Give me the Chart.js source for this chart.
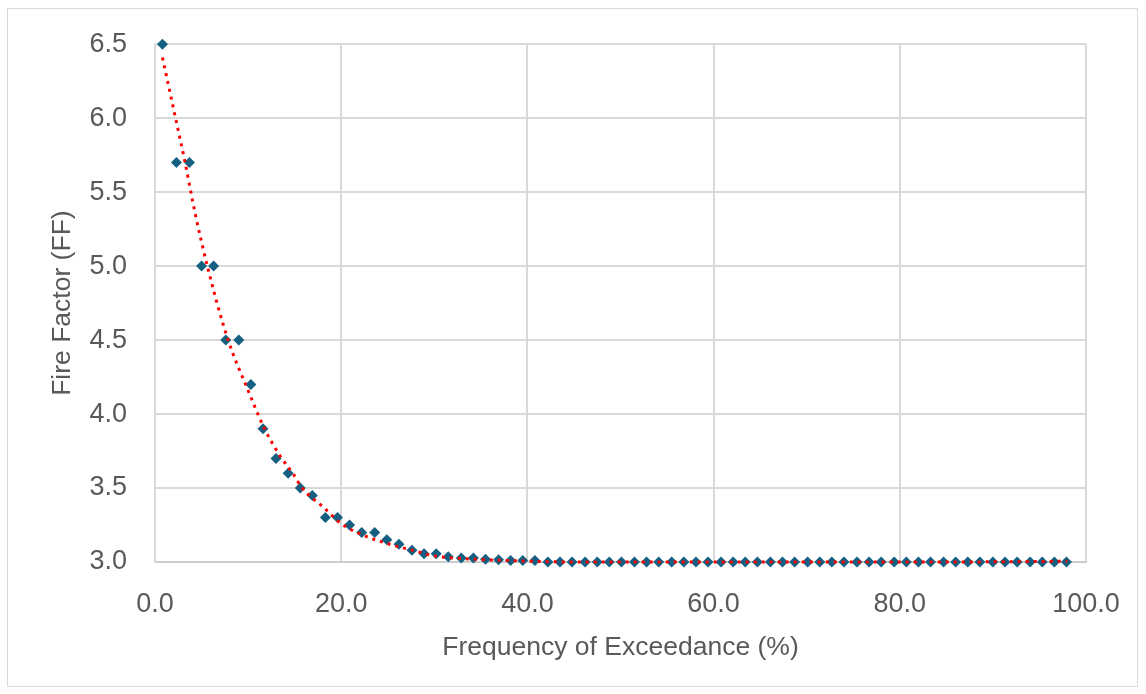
<!DOCTYPE html>
<html>
<head>
<meta charset="utf-8">
<script src="https://cdn.jsdelivr.net/npm/chart.js@4"></script>
<style>
  html, body { margin: 0; padding: 0; background: #fff; }
  .wrap { position: relative; width: 1146px; height: 694px; }
  .frame { position: absolute; left: 7px; top: 8px; width: 1131px; height: 679px;
           border: 1px solid #d9d9d9; box-sizing: border-box; pointer-events: none; }
</style>
</head>
<body>
<div class="wrap">
  <canvas id="ffChart"></canvas>
  <div class="frame"></div>
</div>
<script>
// frequency of exceedance (%) for each observation
const exceedance = [
  0.8, 2.3, 3.7, 5.0, 6.3, 7.6, 9.0, 10.3, 11.6, 13.0,
  14.3, 15.6, 16.9, 18.3, 19.6, 20.9, 22.2, 23.6, 24.9, 26.2,
  27.6, 28.9, 30.2, 31.5, 32.9, 34.2, 35.5, 36.9, 38.2, 39.5,
  40.8, 42.2, 43.5, 44.8, 46.2, 47.5, 48.8, 50.1, 51.5, 52.8,
  54.1, 55.5, 56.8, 58.1, 59.4, 60.8, 62.1, 63.4, 64.7, 66.1,
  67.4, 68.7, 70.1, 71.4, 72.7, 74.0, 75.4, 76.7, 78.0, 79.4,
  80.7, 82.0, 83.3, 84.7, 86.0, 87.3, 88.6, 90.0, 91.3, 92.6,
  94.0, 95.3, 96.6, 97.9
];

// fire factor of each observation
const fireFactor = [
  6.5, 5.7, 5.7, 5.0, 5.0, 4.5, 4.5, 4.2, 3.9, 3.7,
  3.6, 3.5, 3.45, 3.3, 3.3, 3.25, 3.2, 3.2, 3.15, 3.12,
  3.08, 3.055, 3.055, 3.035, 3.027, 3.027, 3.018, 3.016, 3.01, 3.01,
  3.01, 3.0, 3.0, 3.0, 3.0, 3.0, 3.0, 3.0, 3.0, 3.0,
  3.0, 3.0, 3.0, 3.0, 3.0, 3.0, 3.0, 3.0, 3.0, 3.0,
  3.0, 3.0, 3.0, 3.0, 3.0, 3.0, 3.0, 3.0, 3.0, 3.0,
  3.0, 3.0, 3.0, 3.0, 3.0, 3.0, 3.0, 3.0, 3.0, 3.0,
  3.0, 3.0, 3.0, 3.0
];

// fitted trend curve
const trendX = [0.8, 2.0, 3.2, 4.3, 5.7, 7.8, 10.0, 11.7, 13.4, 14.9, 15.8, 18.1, 20.0, 22.4, 25.2, 27.6, 30.1, 34.0, 39.4, 45.0, 55.0, 70.0, 85.0, 98.0];
const trendY = [6.41, 6.06, 5.71, 5.36, 4.98, 4.51, 4.16, 3.91, 3.72, 3.59, 3.50, 3.37, 3.26, 3.18, 3.12, 3.08, 3.04, 3.02, 3.007, 3.0, 3.0, 3.0, 3.0, 3.005];

const xTicks = [0, 20, 40, 60, 80, 100];
const yTicks = [3.0, 3.5, 4.0, 4.5, 5.0, 5.5, 6.0, 6.5];

const gray = '#595959';
const gridGray = '#d9d9d9';
const fontFam = "'Liberation Sans', Arial, sans-serif";

const points = exceedance.map((x, i) => ({ x: x, y: fireFactor[i] }));
const trend = trendX.map((x, i) => ({ x: x, y: trendY[i] }));

const config = {
  type: 'scatter',
  data: {
    datasets: [
      {
        label: 'Trend',
        data: trend,
        showLine: true,
        borderColor: '#ff0000',
        borderWidth: 3,
        borderDash: [3, 5],
        pointRadius: 0,
        cubicInterpolationMode: 'monotone',
        clip: false,
        order: 0
      },
      {
        label: 'FF',
        data: points,
        pointStyle: 'rectRot',
        pointRadius: 5.5,
        backgroundColor: '#156082',
        borderColor: '#156082',
        borderWidth: 0,
        clip: false,
        order: 1
      }
    ]
  },
  options: {
    responsive: true,
    maintainAspectRatio: false,
    animation: false,
    layout: { padding: { top: 38, right: 60, left: 0, bottom: 0 } },
    plugins: {
      legend: { display: false },
      tooltip: { enabled: false }
    },
    scales: {
      x: {
        type: 'linear',
        min: 0,
        max: 100,
        afterFit: (scale) => { scale.height = 132; },
        afterBuildTicks: (scale) => { scale.ticks = xTicks.map(v => ({ value: v })); },
        ticks: {
          color: gray,
          font: { family: fontFam, size: 27 },
          padding: 26,
          maxRotation: 0,
          callback: (v) => Number(v).toFixed(1)
        },
        grid: { color: gridGray, lineWidth: 2, drawTicks: false },
        border: { color: '#cccccc', width: 2 },
        title: {
          display: true,
          text: 'Frequency of Exceedance (%)',
          color: gray,
          font: { family: fontFam, size: 26.5 },
          padding: { top: 0, bottom: 30 }
        }
      },
      y: {
        type: 'linear',
        min: 3,
        max: 6.5,
        afterFit: (scale) => { scale.width = 155; },
        afterBuildTicks: (scale) => { scale.ticks = yTicks.map(v => ({ value: v })); },
        ticks: {
          color: gray,
          font: { family: fontFam, size: 27 },
          padding: 28,
          callback: (v) => Number(v).toFixed(1)
        },
        grid: { color: gridGray, lineWidth: 2, drawTicks: false },
        border: { color: gridGray, width: 2 },
        title: {
          display: true,
          text: 'Fire Factor (FF)',
          color: gray,
          font: { family: fontFam, size: 26.5 },
          padding: { top: 47, bottom: 0 }
        }
      }
    }
  }
};

new Chart(document.getElementById('ffChart'), config);
</script>
</body>
</html>
